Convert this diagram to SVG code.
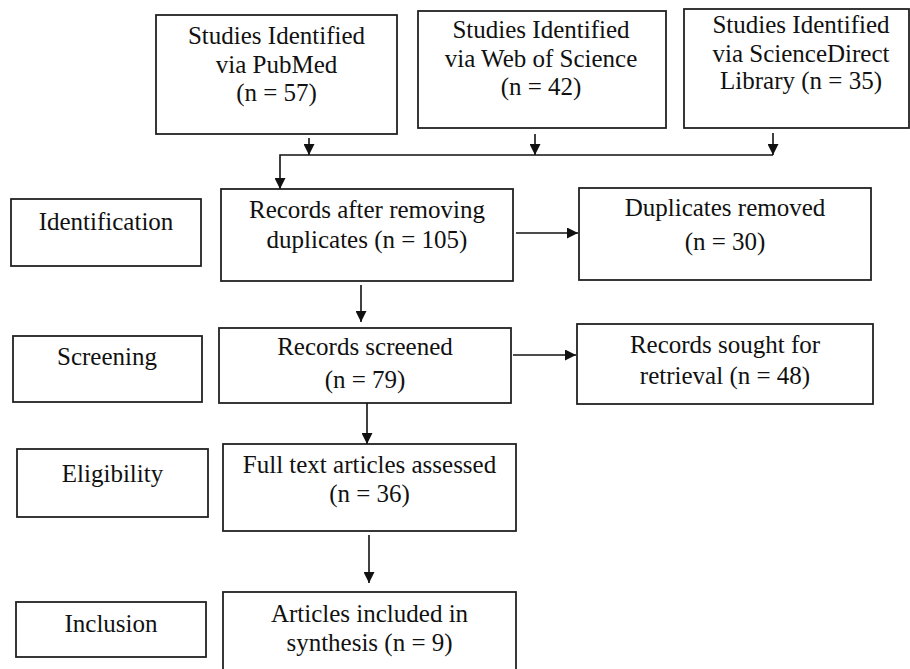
<svg xmlns="http://www.w3.org/2000/svg" width="910" height="669" viewBox="0 0 910 669">
  <defs>
    <marker id="arrow" markerUnits="userSpaceOnUse" markerWidth="11" markerHeight="11" refX="11" refY="5.5" orient="auto">
      <path d="M0,0 L11,5.5 L0,11 z" fill="#111"/>
    </marker>
    <style>
      rect { fill: #fff; stroke: #222; stroke-width: 1.8; }
      text { font-family: "Liberation Serif", "Times New Roman", serif; font-size: 25px; fill: #111; text-anchor: middle; }
      .conn line, .conn polyline { stroke: #111; stroke-width: 1.6; fill: none; }
    </style>
  </defs>
  <rect x="0" y="0" width="910" height="669" style="fill:#fff;stroke:none"/>

  <g id="pubmed">
    <rect x="156" y="15" width="241" height="119"/>
    <text x="276.5" y="44">Studies Identified</text>
    <text x="276.5" y="73">via PubMed</text>
    <text x="276.5" y="101">(n = 57)</text>
  </g>
  <g id="wos">
    <rect x="418" y="11" width="248" height="117"/>
    <text x="541" y="38">Studies Identified</text>
    <text x="541" y="67">via Web of Science</text>
    <text x="541" y="95">(n = 42)</text>
  </g>
  <g id="sciencedirect">
    <rect x="684" y="9" width="225" height="119"/>
    <text x="801" y="33">Studies Identified</text>
    <text x="801" y="62">via ScienceDirect</text>
    <text x="801" y="89">Library (n = 35)</text>
  </g>

  <g id="identification">
    <rect x="11" y="199" width="190" height="67"/>
    <text x="106" y="230">Identification</text>
  </g>
  <g id="records-after">
    <rect x="221" y="189" width="292" height="92"/>
    <text x="367" y="218">Records after removing</text>
    <text x="367" y="248">duplicates (n = 105)</text>
  </g>
  <g id="duplicates">
    <rect x="579" y="188" width="292" height="92"/>
    <text x="725" y="216">Duplicates removed</text>
    <text x="725" y="250">(n = 30)</text>
  </g>

  <g id="screening">
    <rect x="13" y="336" width="189" height="66"/>
    <text x="107" y="365">Screening</text>
  </g>
  <g id="records-screened">
    <rect x="219" y="328" width="292" height="75"/>
    <text x="365" y="355">Records screened</text>
    <text x="365" y="388">(n = 79)</text>
  </g>
  <g id="records-sought">
    <rect x="577" y="324" width="296" height="80"/>
    <text x="725" y="353">Records sought for</text>
    <text x="725" y="384">retrieval (n = 48)</text>
  </g>

  <g id="eligibility">
    <rect x="17" y="449" width="191" height="68"/>
    <text x="112.5" y="482">Eligibility</text>
  </g>
  <g id="full-text">
    <rect x="223" y="444" width="293" height="87"/>
    <text x="369.5" y="473">Full text articles assessed</text>
    <text x="369.5" y="502">(n = 36)</text>
  </g>

  <g id="inclusion">
    <rect x="16" y="602" width="190" height="55"/>
    <text x="111" y="632">Inclusion</text>
  </g>
  <g id="articles-included">
    <rect x="223" y="592" width="293" height="90"/>
    <text x="369.5" y="622">Articles included in</text>
    <text x="369.5" y="651">synthesis (n = 9)</text>
  </g>

  <g id="connectors" class="conn">
    <line x1="309" y1="138" x2="309" y2="155" marker-end="url(#arrow)"/>
    <line x1="535" y1="134" x2="535" y2="155" marker-end="url(#arrow)"/>
    <line x1="773" y1="133" x2="773" y2="155" marker-end="url(#arrow)"/>
    <polyline points="773,155 280,155 280,189" marker-end="url(#arrow)"/>
    <line x1="516" y1="233" x2="578" y2="233" marker-end="url(#arrow)"/>
    <line x1="361" y1="285" x2="361" y2="322" marker-end="url(#arrow)"/>
    <line x1="513" y1="355" x2="576" y2="355" marker-end="url(#arrow)"/>
    <line x1="367" y1="403" x2="367" y2="444" marker-end="url(#arrow)"/>
    <line x1="369" y1="535" x2="369" y2="583" marker-end="url(#arrow)"/>
  </g>
</svg>
